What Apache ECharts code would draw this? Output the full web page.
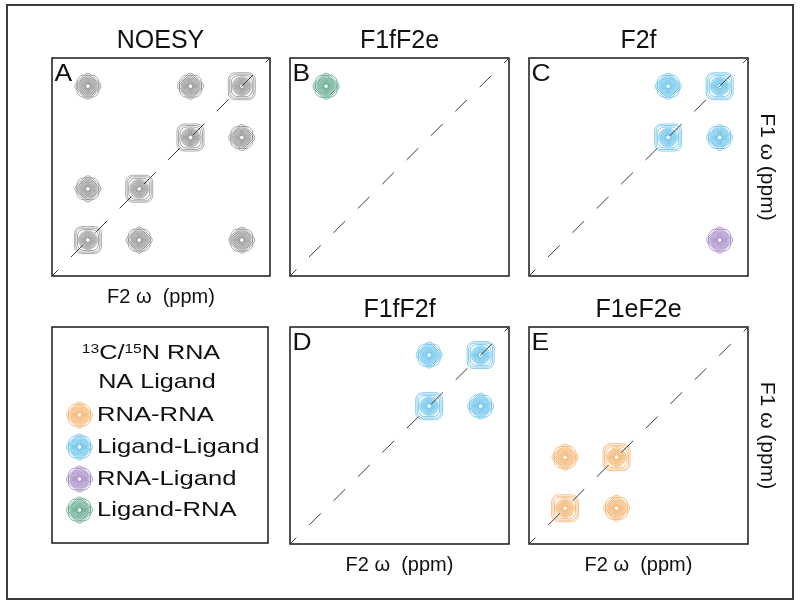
<!DOCTYPE html>
<html>
<head>
<meta charset="utf-8">
<script src="https://cdn.jsdelivr.net/npm/echarts@6/dist/echarts.min.js"></script>
<style>html,body{margin:0;padding:0;background:#fff}#c{width:800px;height:606px}</style>
</head>
<body>
<div id="c"></div>
<script>
// ---- data ----
const axisMin = 0;
const axisMax = 4.25;
const panelTitles = ['NOESY', 'F1fF2e', 'F2f', 'F1fF2f', 'F1eF2e'];
const panelLetters = ['A', 'B', 'C', 'D', 'E'];
const xAxisName = 'F2 ω  (ppm)';
const yAxisName = 'F1 ω (ppm)';
const legendNames = ['RNA-RNA', 'Ligand-Ligand', 'RNA-Ligand', 'Ligand-RNA'];
const legendHeader = ['13C/15N RNA', 'NA Ligand'];
const diagonal = [[0, 0], [4.25, 4.25]];
const peaksNOESY = [[0.7, 3.7], [2.7, 3.7], [3.7, 3.7], [2.7, 2.7], [3.7, 2.7], [0.7, 1.7], [1.7, 1.7], [0.7, 0.7], [1.7, 0.7], [3.7, 0.7]];
const peaksLigandRNA = [[0.7, 3.7]];
const peaksLigandLigandC = [[2.7, 3.7], [3.7, 3.7], [2.7, 2.7], [3.7, 2.7]];
const peaksRNALigand = [[3.7, 0.7]];
const peaksLigandLigandD = [[2.7, 3.7], [3.7, 3.7], [2.7, 2.7], [3.7, 2.7]];
const peaksRNARNA = [[0.7, 1.7], [1.7, 1.7], [0.7, 0.7], [1.7, 0.7]];

// ---- styles ----
const COL = { grey: '#7c7c7c', orange: '#F3A24E', blue: '#45B4E6', purple: '#8E6CB6', green: '#3C9270' };
const FONT = '"Liberation Sans", Arial, sans-serif';
const grids = [
  { left: 52, top: 58, width: 218, height: 218 },
  { left: 290, top: 58, width: 219, height: 218 },
  { left: 529, top: 58, width: 219, height: 218 },
  { left: 290, top: 327, width: 219, height: 217 },
  { left: 529, top: 327, width: 219, height: 217 }
];

function ringShapes(cx, cy, color, diag) {
  const els = [];
  const st = (o, w) => ({ fill: 'none', stroke: color, lineWidth: w || 0.85, opacity: o });
  if (diag) {
    els.push({ type: 'rect', shape: { x: cx - 13.5, y: cy - 13.5, width: 27, height: 27, r: 7 }, style: st(0.75) });
    els.push({ type: 'rect', shape: { x: cx - 12, y: cy - 12, width: 24, height: 24, r: 6 }, style: st(0.8) });
    els.push({ type: 'rect', shape: { x: cx - 10.5, y: cy - 10.5, width: 21, height: 21, r: 6.5 }, style: st(0.85) });
  } else {
    els.push({ type: 'rect', shape: { x: cx - 10.5, y: cy - 10.5, width: 21, height: 21, r: 4.5 }, rotation: Math.PI / 4, originX: cx, originY: cy, style: st(0.75) });
    els.push({ type: 'rect', shape: { x: cx - 11, y: cy - 11, width: 22, height: 22, r: 7 }, style: st(0.75) });
    els.push({ type: 'rect', shape: { x: cx - 9, y: cy - 9, width: 18, height: 18, r: 4.5 }, rotation: Math.PI / 4, originX: cx, originY: cy, style: st(0.8) });
  }
  els.push({ type: 'circle', shape: { cx: cx, cy: cy, r: 8.8 }, style: { fill: color, opacity: 0.14 } });
  [9.4, 8.3, 7.2, 6.2, 5.2, 4.2, 3.3, 2.4].forEach(function (r, i) {
    els.push({ type: 'circle', shape: { cx: cx, cy: cy, r: r }, style: st(0.72 + i * 0.03, 0.8) });
  });
  els.push({ type: 'circle', shape: { cx: cx, cy: cy, r: 1.3 }, style: { fill: '#fff' } });
  return els;
}

function peakSeries(name, data, gi, color) {
  return {
    type: 'custom', name: name, xAxisIndex: gi, yAxisIndex: gi, z: 2, data: data,
    renderItem: function (params, api) {
      const c = api.coord([api.value(0), api.value(1)]);
      const diag = Math.abs(api.value(0) - api.value(1)) < 1e-6;
      return { type: 'group', children: ringShapes(c[0], c[1], color, diag) };
    }
  };
}
function diagSeries(gi) {
  return {
    type: 'line', xAxisIndex: gi, yAxisIndex: gi, data: diagonal, symbol: 'none', z: 5, silent: true,
    lineStyle: { color: '#3a3a3a', width: 1, type: [16.5, 17.9], dashOffset: 7.5 }
  };
}

const xAxes = grids.map(function (g, i) {
  const named = (i === 0 || i === 3 || i === 4);
  return {
    type: 'value', gridIndex: i, min: axisMin, max: axisMax,
    name: named ? xAxisName : '', nameLocation: 'middle', nameGap: 11,
    nameTextStyle: { fontFamily: FONT, fontSize: 20, color: '#111', verticalAlign: 'top' },
    axisLine: { show: false }, axisTick: { show: false }, axisLabel: { show: false }, splitLine: { show: false }
  };
});
const yAxes = grids.map(function (g, i) {
  const named = (i === 2 || i === 4);
  return {
    type: 'value', gridIndex: i, min: axisMin, max: axisMax, position: 'right',
    name: named ? yAxisName : '', nameLocation: 'middle', nameGap: 8, nameRotate: -90,
    nameTextStyle: { fontFamily: FONT, fontSize: 21, color: '#111' },
    axisLine: { show: false }, axisTick: { show: false }, axisLabel: { show: false }, splitLine: { show: false }
  };
});

const titleCenters = [[160.5, 41], [399.5, 41], [638.5, 41], [399.5, 310], [638.5, 310]];
const graphics = [];
graphics.push({ type: 'rect', shape: { x: 7, y: 5, width: 786, height: 594 }, style: { fill: 'none', stroke: '#3c3c3c', lineWidth: 2 }, z: 10 });
titleCenters.forEach(function (p, i) {
  graphics.push({ type: 'text', x: p[0], y: p[1], style: { text: panelTitles[i], font: '25px ' + FONT, fill: '#111', textAlign: 'center', textVerticalAlign: 'middle' }, z: 10 });
  const g = grids[i];
  graphics.push({ type: 'text', x: g.left + 2.5, y: g.top + 16, scaleX: 1.1, style: { text: panelLetters[i], font: '24px ' + FONT, fill: '#111', textAlign: 'left', textVerticalAlign: 'middle' }, z: 10 });
});
// legend box
graphics.push({ type: 'rect', shape: { x: 52, y: 327, width: 216, height: 216 }, style: { fill: 'none', stroke: '#1a1a1a', lineWidth: 1.5 }, z: 10 });
graphics.push({ type: 'text', x: 151, y: 353, scaleX: 1.2, style: { text: '{s|13}C/{s|15}N RNA', font: '21px ' + FONT, fill: '#111', textAlign: 'center', textVerticalAlign: 'middle', rich: { s: { fontSize: 13, fontFamily: FONT, verticalAlign: 'top', fill: '#111' } } }, z: 10 });
graphics.push({ type: 'text', x: 157, y: 382, scaleX: 1.2, style: { text: legendHeader[1], font: '21px ' + FONT, fill: '#111', textAlign: 'center', textVerticalAlign: 'middle' }, z: 10 });
const legendColors = [COL.orange, COL.blue, COL.purple, COL.green];
const legendRows = [415, 447, 479, 510];
legendNames.forEach(function (n, i) {
  graphics.push({ type: 'group', z: 10, children: ringShapes(79.5, legendRows[i], legendColors[i], false) });
  graphics.push({ type: 'text', x: 97, y: legendRows[i], scaleX: 1.22, style: { text: n, font: '21px ' + FONT, fill: '#111', textAlign: 'left', textVerticalAlign: 'middle' }, z: 10 });
});

const option = {
  animation: false,
  backgroundColor: '#fff',
  grid: grids.map(function (g) { return Object.assign({ show: true, borderColor: '#1a1a1a', borderWidth: 1.5, backgroundColor: 'transparent', containLabel: false }, g); }),
  xAxis: xAxes,
  yAxis: yAxes,
  series: [
    peakSeries('NOESY', peaksNOESY, 0, COL.grey),
    peakSeries('Ligand-RNA', peaksLigandRNA, 1, COL.green),
    peakSeries('Ligand-Ligand', peaksLigandLigandC, 2, COL.blue),
    peakSeries('RNA-Ligand', peaksRNALigand, 2, COL.purple),
    peakSeries('Ligand-Ligand', peaksLigandLigandD, 3, COL.blue),
    peakSeries('RNA-RNA', peaksRNARNA, 4, COL.orange),
    diagSeries(0), diagSeries(1), diagSeries(2), diagSeries(3), diagSeries(4)
  ],
  graphic: { elements: graphics }
};
const chart = echarts.init(document.getElementById('c'), null, { renderer: 'canvas' });
chart.setOption(option);
</script>
</body>
</html>
